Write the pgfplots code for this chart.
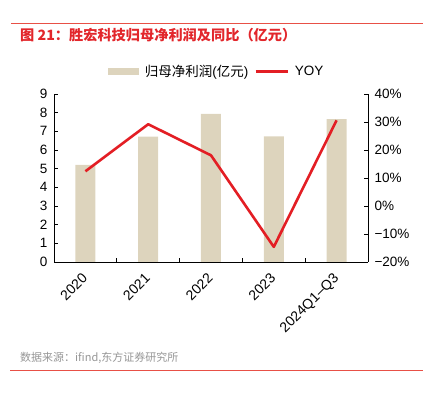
\documentclass[border=0pt]{standalone}
\usepackage{fontspec}
\setmainfont{Liberation Sans}
\newfontfamily\cjk{Noto Sans CJK SC}
\usepackage{pgfplots}
\pgfplotsset{compat=1.18}
\definecolor{barc}{RGB}{221,212,189}
\definecolor{linec}{RGB}{227,30,36}
\definecolor{titc}{RGB}{226,38,43}
\definecolor{rulec}{RGB}{232,80,70}
\definecolor{srcc}{RGB}{150,150,150}
\begin{document}
\begin{tikzpicture}[x=1pt,y=1pt]
\useasboundingbox (0,0) rectangle (429,399);
\draw[rulec, line width=0.8pt] (11,376) -- (423,376);
\node[anchor=west, text=titc, inner sep=0pt, font=\cjk\bfseries\fontsize{14.2}{16}\selectfont] at (20,364) {图 21：胜宏科技归母净利润及同比（亿元）};
\begin{axis}[
  at={(54pt,137pt)}, anchor=south west,
  width=314pt, height=168pt, scale only axis,
  xmin=-0.5, xmax=4.5, ymin=0, ymax=9,
  axis y line*=left, axis x line*=bottom,
  axis line style={line width=0.8pt, -},
  xtick={0,1,2,3,4},
  xticklabels={2020,2021,2022,2023,2024Q1–Q3},
  major x tick style={draw=none},
  minor xtick={0.5,1.5,2.5,3.5},
  minor tick length=4pt,
  minor x tick style={black, line width=0.6pt},
  ytick={0,1,...,9},
  major tick length=4pt,
  ytick style={black, line width=0.6pt},
  tick align=inside,
  tick label style={font=\fontsize{13.5}{15}\selectfont},
  x tick label style={font=\fontsize{14}{16}\selectfont, rotate=45, anchor=north east, inner sep=1pt, xshift=-9pt, yshift=-3pt},
  /pgf/number format/assume math mode=true,
  yticklabel style={xshift=-3pt},
]
\addplot[ybar, bar width=20pt, fill=barc, draw=none] coordinates {(0,5.2) (1,6.71) (2,7.93) (3,6.73) (4,7.66)};
\end{axis}
\begin{axis}[
  at={(54pt,137pt)}, anchor=south west,
  width=314pt, height=168pt, scale only axis,
  xmin=-0.5, xmax=4.5, ymin=-20, ymax=40,
  axis y line*=right, axis x line=none,
  axis line style={line width=0.8pt, -},
  ytick={-20,-10,0,10,20,30,40},
  yticklabels={−20\%,−10\%,0\%,10\%,20\%,30\%,40\%},
  major tick length=4pt,
  ytick style={black, line width=0.6pt},
  tick align=inside,
  tick label style={font=\fontsize{13.5}{15}\selectfont},
  yticklabel style={xshift=3pt},
  legend columns=2,
  legend style={at={(0.5,1)}, anchor=south, xshift=6pt, yshift=12pt, draw=none, fill=none,
    font=\fontsize{13.5}{15}\selectfont, column sep=4pt},
]
\addlegendimage{legend image code/.code={\fill[barc] (0pt,-3pt) rectangle (30pt,3pt);}}
\addlegendentry{\cjk 归母净利润\rmfamily(\cjk 亿元\rmfamily)}
\addplot[linec, line width=2.6pt, line join=round, legend image code/.code={\draw[linec, line width=2.6pt] (0pt,0pt) -- (32pt,0pt);}] coordinates {(0,12.4) (1,29.2) (2,18.1) (3,-14.6) (4,30.6)};
\addlegendentry{YOY}
\end{axis}
\node[anchor=west, text=srcc, inner sep=0pt, font=\cjk\fontsize{11}{12}\selectfont] at (20,41) {数据来源：ifind,东方证券研究所};
\draw[rulec, line width=0.8pt] (10,29) -- (423,29);
\end{tikzpicture}
\end{document}
